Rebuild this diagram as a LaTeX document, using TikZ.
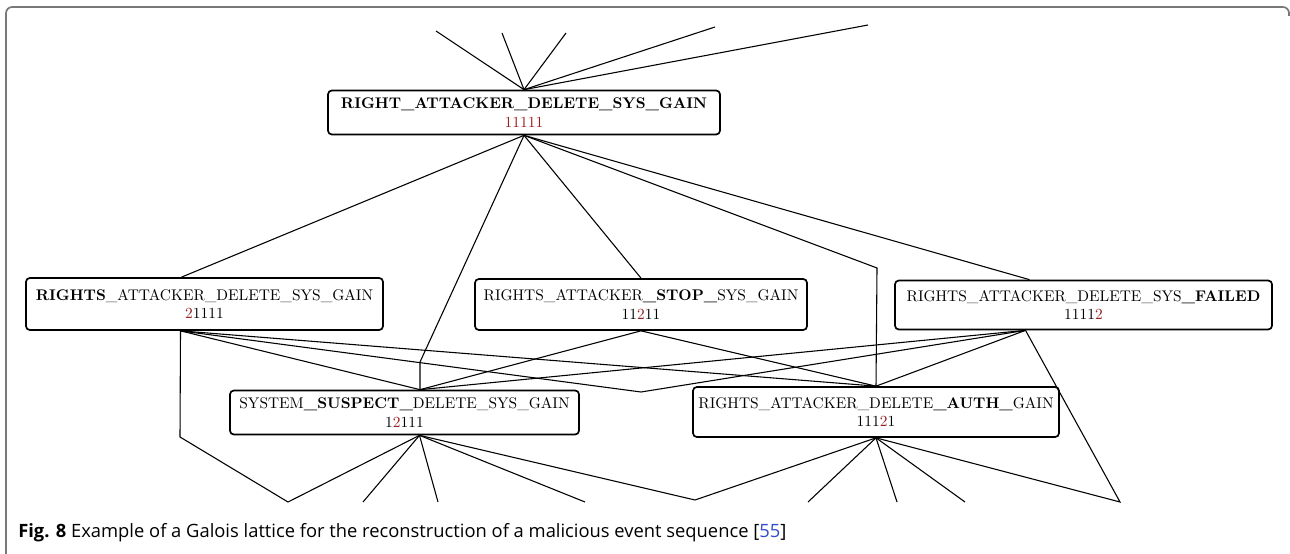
\documentclass[tikz,border=0pt]{standalone}
\usepackage{fontspec}
\usepackage{tikz}
\usetikzlibrary{calc}
\newfontfamily\capfont{Open Sans}
\def\px{0.0228cm}

\begin{document}
\begin{tikzpicture}[x=\px, y=-\px,
    concept/.style={draw, line width=1.1pt, rounded corners=2.5pt, align=center, inner sep=0pt},
    edge/.style={line width=0.7pt}]
    \definecolor{dr}{rgb}{0.6,0.12,0.13}
    \definecolor{fg}{rgb}{0.47,0.47,0.47}
    \definecolor{cb}{rgb}{0.2,0.3,0.8}
    \useasboundingbox (0,0) rectangle (1290,554);

    % frame and caption %
    \draw [fg, line width=1.1pt, rounded corners=4] (6,554) -- (6,7) -- (1289,7) -- (1289,16);
    \node [anchor=base west, inner sep=0pt, font=\capfont\fontsize{11.9}{13}\selectfont] (cap) at (18,537)
      {\textbf{Fig. 8} Example of a Galois lattice for the reconstruction of a malicious event sequence [\textcolor{cb}{55}]};

    % concepts %
    \node [concept, minimum width=392*\px, minimum height=44*\px] (top) at (524,112.5)
      {\textbf{RIGHT\_ATTACKER\_DELETE\_SYS\_GAIN}\\\textcolor{dr}{11111}};
    \node [concept, minimum width=357*\px, minimum height=52*\px] (rights) at (204.5,304)
      {\textbf{RIGHTS}\_ATTACKER\_DELETE\_SYS\_GAIN\\\textcolor{dr}{2}1111};
    \node [concept, minimum width=332*\px, minimum height=51*\px] (stop) at (641,304.5)
      {RIGHTS\_ATTACKER\textbf{\_STOP\_}SYS\_GAIN\\11\textcolor{dr}{2}11};
    \node [concept, minimum width=377*\px, minimum height=49*\px] (failed) at (1083.5,305)
      {RIGHTS\_ATTACKER\_DELETE\_SYS\textbf{\_FAILED}\\1111\textcolor{dr}{2}};
    \node [concept, minimum width=349*\px, minimum height=44*\px] (suspect) at (404.5,412.5)
      {SYSTEM\textbf{\_SUSPECT\_}DELETE\_SYS\_GAIN\\1\textcolor{dr}{2}111};
    \node [concept, minimum width=366*\px, minimum height=50*\px] (auth) at (876,412)
      {RIGHTS\_ATTACKER\_DELETE\textbf{\_AUTH\_}GAIN\\111\textcolor{dr}{2}1};

    % ports and bends %
    \coordinate (rights-n) at ($(rights.north)+(-23,0)$);
    \coordinate (rights-s) at ($(rights.south)+(-24,0)$);
    \coordinate (failed-n) at ($(failed.north)+(-54,0)$);
    \coordinate (failed-s) at ($(failed.south)+(-58,0)$);
    \coordinate (suspect-n) at ($(suspect.north)+(15.5,0)$);
    \coordinate (suspect-s) at ($(suspect.south)+(15,0)$);
    \coordinate (bendA) at (420,362);
    \coordinate (bendB) at (877,268);
    \coordinate (bendC) at (180,437);
    \coordinate (bendD) at (288,502);
    \coordinate (bendE) at (641,392);
    \coordinate (bendF) at (1120,502);
    \coordinate (bendG) at (695,500);
    \foreach \n/\x/\y in {1/436/31, 2/502/33, 3/566/33, 4/715/27, 5/868/25}
      \coordinate (up\n) at (\x,\y);
    \foreach \n/\x in {1/363, 2/438, 3/585}
      \coordinate (sdown\n) at (\x,502);
    \foreach \n/\x in {1/808, 2/897, 3/965}
      \coordinate (adown\n) at (\x,502);

    % edges %
    \foreach \n in {1,...,5}
      \draw [edge] (top.north) -- (up\n);
    \draw [edge] (top.south) -- (rights-n);
    \draw [edge] (top.south) -- (bendA) -- (suspect-n);
    \draw [edge] (top.south) -- (stop.north);
    \draw [edge] (top.south) -- (bendB) -- (auth.north);
    \draw [edge] (top.south) -- (failed-n);

    \draw [edge] (rights-s) -- (bendC) -- (bendD) -- (suspect-s);
    \draw [edge] (rights-s) -- (suspect-n);
    \draw [edge] (rights-s) -- (bendE) -- (failed-s);
    \draw [edge] (rights-s) -- (auth.north);
    \draw [edge] (stop.south) -- (suspect-n);
    \draw [edge] (stop.south) -- (auth.north);
    \draw [edge] (failed-s) -- (suspect-n);
    \draw [edge] (failed-s) -- (auth.north);
    \draw [edge] (failed-s) -- (bendF) -- (auth.south);

    \draw [edge] (suspect-s) -- (bendG) -- (auth.south);
    \foreach \n in {1,2,3}
      \draw [edge] (suspect-s) -- (sdown\n);
    \foreach \n in {1,2,3}
      \draw [edge] (auth.south) -- (adown\n);
  \end{tikzpicture}
\end{document}
